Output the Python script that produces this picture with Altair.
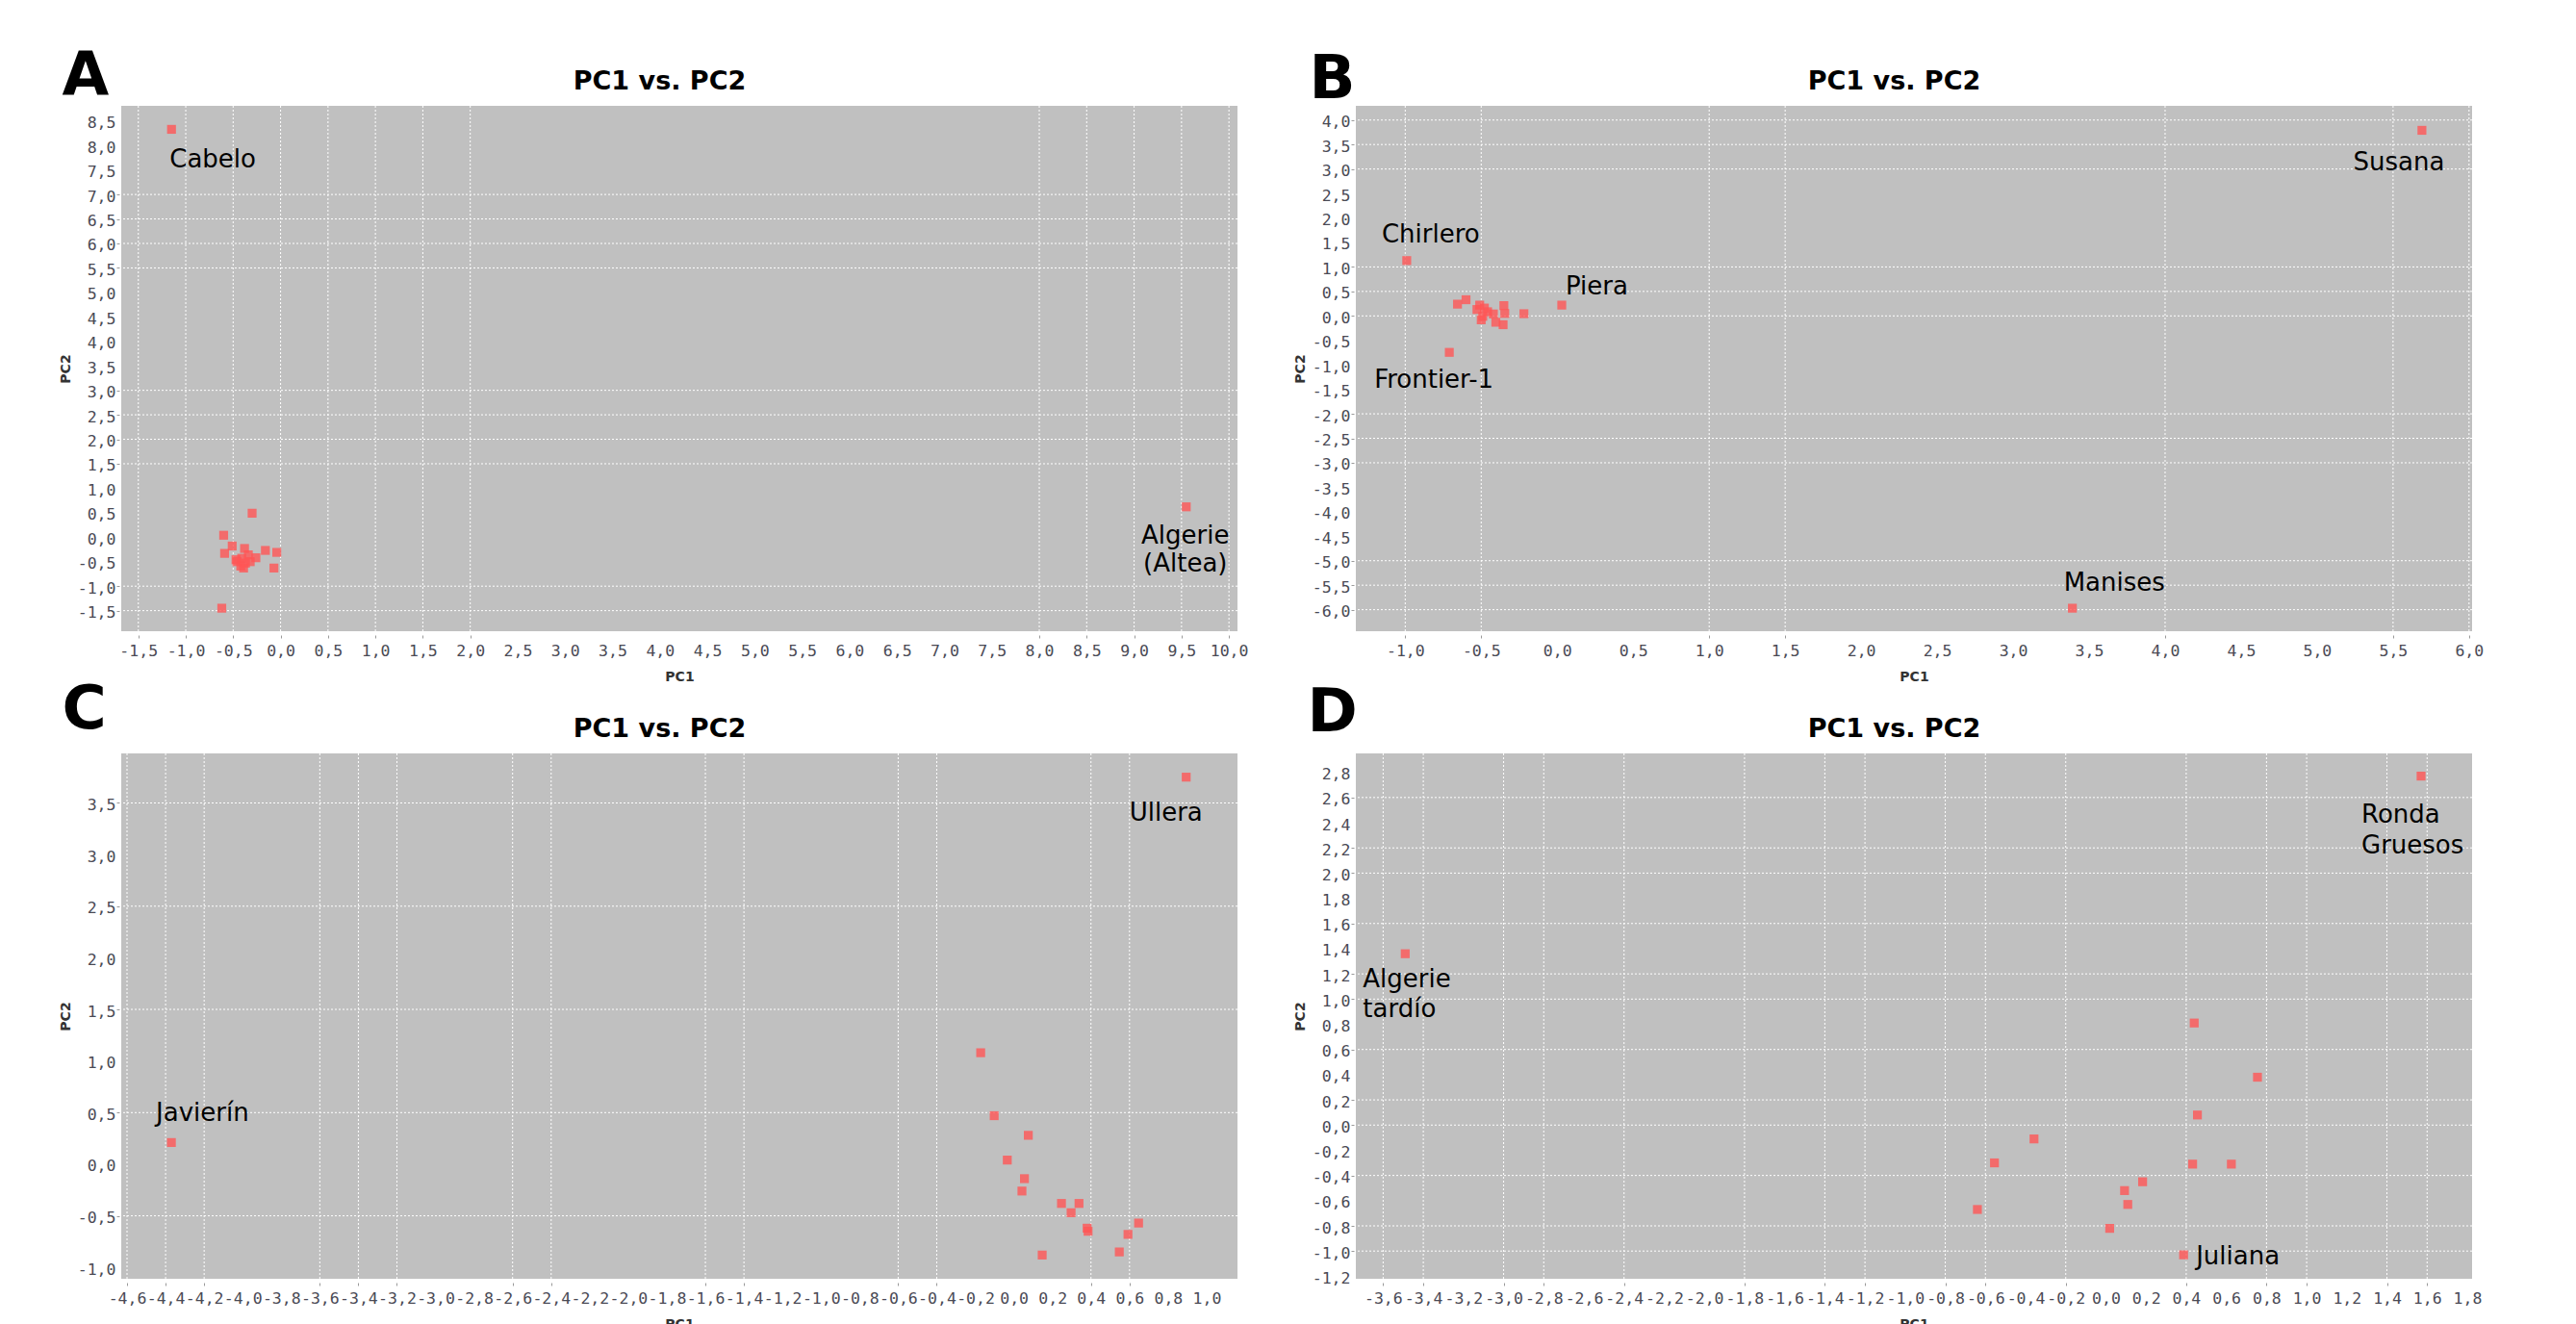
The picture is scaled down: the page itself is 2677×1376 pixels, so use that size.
import altair as alt
import pandas as pd

# ---------------- data ----------------
# Panel A
A_pc1 = [-1.15, 9.55, -0.30, -0.60, -0.51, -0.59, -0.38, -0.16, -0.04, -0.07, -0.62,
         -0.47, -0.41, -0.34, -0.37, -0.42, -0.32, -0.26, -0.39, -0.46]
A_pc2 = [8.33, 0.62, 0.49, 0.04, -0.18, -0.33, -0.23, -0.27, -0.31, -0.63, -1.45,
         -0.46, -0.43, -0.36, -0.53, -0.59, -0.50, -0.42, -0.63, -0.50]
A_names = ["Cabelo", "Algerie\n(Altea)"] + [""] * 18

# Panel B
B_pc1 = [5.69, 3.39, -0.99, 0.03, -0.71, -0.656, -0.60, -0.528, -0.479, -0.458, -0.49,
         -0.50, -0.42, -0.404, -0.351, -0.345, -0.356, -0.219, -0.51]
B_pc2 = [3.79, -5.97, 1.13, 0.22, -0.745, 0.24, 0.33, 0.13, 0.16, 0.085, -0.01,
         -0.08, 0.04, -0.13, 0.21, 0.05, -0.18, 0.045, 0.22]
B_names = ["Susana", "Manises", "Chirlero", "Piera", "Frontier-1"] + [""] * 14

# Panel C
C_pc1 = [0.894, -4.37, -0.172, -0.102, 0.075, -0.034, 0.055, 0.042, 0.247, 0.338,
         0.297, 0.38, 0.385, 0.647, 0.592, 0.547, 0.147]
C_pc2 = [3.75, 0.21, 1.08, 0.47, 0.28, 0.04, -0.14, -0.26, -0.38, -0.38,
         -0.47, -0.62, -0.65, -0.57, -0.68, -0.85, -0.88]
C_names = ["Ullera", "Javierín"] + [""] * 15

# Panel D
D_pc1 = [1.57, -3.49, 0.387, 0.44, 0.755, 0.456, -0.358, -0.555, 0.432, 0.625,
         0.183, 0.093, 0.109, -0.64, 0.019]
D_pc2 = [2.77, 1.36, -1.03, 0.81, 0.38, 0.08, -0.11, -0.30, -0.31, -0.31,
         -0.45, -0.52, -0.63, -0.67, -0.82]
D_names = ["Ronda\nGruesos", "Algerie\ntardío", "Juliana"] + [""] * 12

# axis ticks
def ticks(start, stop, step):
    n = int(round((stop - start) / step))
    return [round(start + step * i, 1) for i in range(n + 1)]

A_xticks, A_yticks = ticks(-1.5, 10.0, 0.5), ticks(-1.5, 8.5, 0.5)
B_xticks, B_yticks = ticks(-1.0, 6.0, 0.5), ticks(-6.0, 4.0, 0.5)
C_xticks, C_yticks = ticks(-4.6, 1.0, 0.2), ticks(-1.0, 3.5, 0.5)
D_xticks, D_yticks = ticks(-3.6, 1.8, 0.2), ticks(-1.2, 2.8, 0.2)

# grid lines that are visible in the reference
A_xgrid = [-1.5, -1.0, -0.5, 0.0, 0.5, 1.0, 1.5, 2.0, 8.0, 8.5, 9.0, 9.5, 10.0]
A_ygrid = [7.0, 6.5, 6.0, 5.5, 3.0, 2.5, 2.0, 1.5, -1.0, -1.5]
B_xgrid = [-1.0, -0.5, 1.0, 1.5, 4.0, 5.5, 6.0]
B_ygrid = [4.0, 3.5, 3.0, 1.0, 0.5, 0.0, -2.0, -2.5, -3.0, -5.0, -5.5, -6.0]
C_xgrid = [-4.6, -4.4, -4.2, -3.6, -3.4, -3.2, -2.6, -2.4, -1.6, -1.4, -0.6, -0.4, 0.4, 0.6]
C_ygrid = [3.5, 2.5, 1.5, 0.5, -0.5]
D_xgrid = [-3.6, -3.4, -3.0, -2.8, -2.4, -1.8, -1.4, -1.2, -0.8, -0.6, -0.2, 0.4, 0.8, 1.0, 1.4, 1.6]
D_ygrid = [2.6, 2.2, 2.0, 1.6, 1.2, 1.0, 0.6, 0.2, 0.0, -0.4, -0.8, -1.0]

# ---------------- styling ----------------
W, H = 1160, 546
LABEL_EXPR = "replace(replace(format(datum.value, '.1f'), '.', ','), '\u2212', '-')"


def cond(vis):
    return {"condition": {"test": "indexof(%s, datum.value) >= 0" % str(vis), "value": 1},
            "value": 0}


def panel(pc1, pc2, names, xdom, ydom, xt, yt, xvis, yvis, letter, lx, ly, styles, xtpad):
    df = pd.DataFrame({"pc1": pc1, "pc2": pc2, "name": names})
    xs = alt.Scale(domain=xdom, nice=False, zero=False)
    ys = alt.Scale(domain=ydom, nice=False, zero=False)
    common = dict(labelExpr=LABEL_EXPR, grid=False, domain=False, ticks=True, tickSize=3,
                  tickColor="#9a9a9a",
                  labelFont="DejaVu Sans Mono", labelFontSize=16.5, labelColor="#4a4a55",
                  labelOverlap=False, labelFlush=False, titleFont="DejaVu Sans",
                  titleFontSize=14, titleFontWeight="bold", titleColor="#333333")
    xaxis = alt.Axis(values=xt, tickOpacity=cond(xvis), offset=4, labelPadding=5,
                     title="PC1", titlePadding=xtpad, **common)
    yaxis = alt.Axis(values=yt, tickOpacity=cond(yvis), offset=2, labelPadding=1,
                     labelOffset=2, title="PC2", titlePadding=5, **common)
    y_enc = alt.Y("pc2:Q", scale=ys, axis=yaxis)

    vgrid = alt.Chart(pd.DataFrame({"g": xvis})).mark_rule(
        color="white", strokeDash=[2, 2], strokeWidth=1).encode(
        x=alt.X("g:Q", scale=xs, axis=None))
    hgrid = alt.Chart(pd.DataFrame({"g": yvis})).mark_rule(
        color="white", strokeDash=[2, 2], strokeWidth=1).encode(
        y=alt.Y("g:Q", scale=ys, axis=yaxis))

    pts = alt.Chart(df).mark_square(size=85, color="#ff5555", opacity=0.8).encode(
        x=alt.X("pc1:Q", scale=xs, axis=xaxis), y=y_enc)
    layers = [vgrid, hgrid, pts]
    for name, (align, dx, dy, lh) in styles.items():
        layers.append(
            alt.Chart(df).transform_filter(alt.FieldEqualPredicate(field="name", equal=name))
            .mark_text(align=align, baseline="alphabetic", dx=dx, dy=dy, lineHeight=lh,
                       lineBreak="\n", font="DejaVu Sans", fontSize=26, color="black")
            .encode(x=alt.X("pc1:Q", scale=xs, axis=None), y=y_enc, text="name:N"))

    top = dict(orient="top", labels=False, ticks=False, domain=False, grid=False,
               titleAngle=0, titleBaseline="alphabetic", titleFont="DejaVu Sans",
               titleFontWeight="bold", titleColor="black")
    letter_layer = alt.Chart(df).mark_point(opacity=0).encode(
        x=alt.X("pc1:Q", scale=xs, axis=alt.Axis(title=letter, titleX=lx, titleY=ly,
                                                  titleAlign="left", titleFontSize=63, **top)),
        y=y_enc)
    title_layer = alt.Chart(df).mark_point(opacity=0).encode(
        x=alt.X("pc1:Q", scale=xs, axis=alt.Axis(title="PC1 vs. PC2", titleX=W / 2 - 21,
                                                  titleY=-18, titleAlign="center",
                                                  titleFontSize=27, **top)),
        y=y_enc)
    layers += [letter_layer, title_layer]
    return alt.layer(*layers).resolve_axis(x="independent").properties(width=W, height=H)


pA = panel(A_pc1, A_pc2, A_names, [-1.68, 10.09], [-1.92, 8.81], A_xticks, A_yticks,
           A_xgrid, A_ygrid, "A", -62, -13,
           {"Cabelo": ("left", -2, 40, 29), "Algerie\n(Altea)": ("center", -1, 38, 29)}, 12)
pB = panel(B_pc1, B_pc2, B_names, [-1.325, 6.02], [-6.44, 4.29], B_xticks, B_yticks,
           B_xgrid, B_ygrid, "B", -49, -9,
           {"Susana": ("center", -24, 42, 29), "Chirlero": ("left", -26, -19, 29),
            "Piera": ("left", 4, -11, 29), "Frontier-1": ("left", -78, 37, 29),
            "Manises": ("left", -9, -18, 29)}, 12)
pC = panel(C_pc1, C_pc2, C_names, [-4.63, 1.16], [-1.11, 3.98], C_xticks, C_yticks,
           C_xgrid, C_ygrid, "C", -62, -27,
           {"Ullera": ("left", -59, 45, 29), "Javierín": ("left", -16, -22, 29)}, 12)
pD = panel(D_pc1, D_pc2, D_names, [-3.736, 1.824], [-1.22, 2.95], D_xticks, D_yticks,
           D_xgrid, D_ygrid, "D", -51, -24,
           {"Ronda\nGruesos": ("left", -62, 48, 32), "Algerie\ntardío": ("left", -44, 35, 31),
            "Juliana": ("left", 13, 10, 29)}, 12)

chart = (
    alt.concat(pA, pB, pC, pD, columns=2)
    .properties(spacing={"row": 127, "column": 123}, bounds="flush",
                padding={"left": 53, "top": 39, "right": 10, "bottom": 0},
                background="white")
    .configure_axis(grid=False)
    .configure_view(fill="#c0c0c0", stroke=None)
)

chart.save("out.html", embed_options={"renderer": "svg", "actions": False})
